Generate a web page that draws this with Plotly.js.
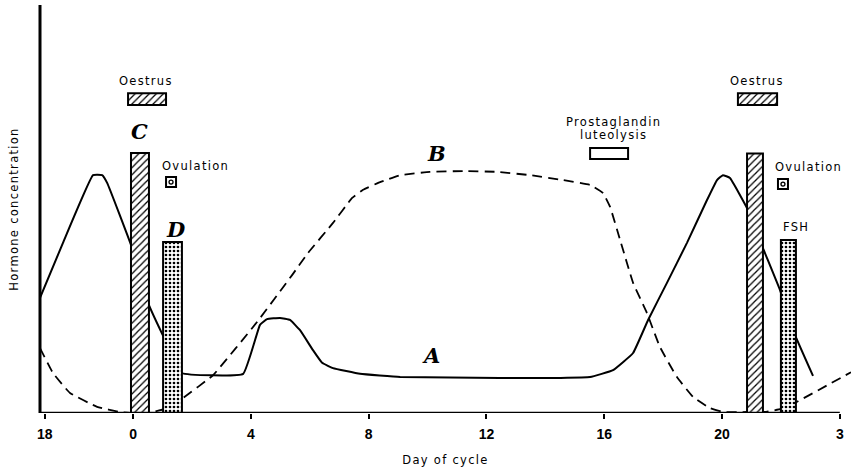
<!DOCTYPE html>
<html>
<head>
<meta charset="utf-8">
<script src="https://cdn.plot.ly/plotly-3.0.1.min.js"></script>
<style>
  html, body { margin: 0; padding: 0; background: #fff; }
  #chart { width: 851px; height: 475px; }
  .annotation-text, .xtitle, .ytitle { letter-spacing: 1.3px; }
</style>
</head>
<body>
<div id="chart"></div>
<script>
// ---- data (day of cycle, relative hormone level) ----
// Curve A (solid)
const aDay = [-3.16, -2.38, -1.36, -1.05, -0.88, -0.03, 0.51, 1.09, 1.66, 3.74, 4.31, 4.55, 4.99, 5.33, 5.67, 6.11, 6.42, 6.79, 7.71, 9.07, 12.46, 14.5, 15.52, 16.3, 16.98, 17.49, 18.13, 18.81, 19.49, 19.83, 20.03, 20.27, 20.88, 21.39, 21.97, 22.48, 23.09];
const aLevel = [28.2, 41.7, 58.3, 58.3, 56.4, 40.4, 27.0, 17.9, 9.8, 9.6, 21.6, 23.0, 23.3, 22.8, 20.3, 15.4, 12.3, 11.0, 9.6, 8.8, 8.6, 8.6, 8.8, 10.5, 14.7, 22.8, 31.9, 41.7, 52.2, 57.1, 58.3, 57.6, 49.8, 40.4, 30.1, 19.1, 9.1];
// Curve B (dashed)
const bDay = [-3.16, -2.72, -2.14, -1.22, -0.44, 0.0, 0.6, 1.1, 1.70, 2.72, 4.21, 5.40, 5.94, 6.79, 7.44, 7.81, 8.39, 9.07, 10.08, 11.21, 12.36, 13.48, 14.6, 15.52, 15.96, 16.2, 16.54, 16.98, 17.45, 17.89, 18.47, 19.02, 19.59, 20.03, 20.85, 21.5, 22.0, 22.48, 24.38];
const bLevel = [15.9, 9.8, 4.9, 1.5, 0.25, 0.0, 0.2, 1.0, 3.7, 9.3, 22.3, 33.8, 39.2, 46.6, 52.7, 54.7, 56.6, 58.3, 59.1, 59.3, 59.1, 58.3, 57.1, 55.9, 53.9, 50.5, 42.4, 31.9, 24.5, 16.2, 8.8, 3.9, 1.2, 0.25, 0.25, 0.3, 1.0, 2.5, 10.0];
// Pulses: C (hatched) and D / FSH (dotted)
const hatchStart = [-0.07, 20.85];
const hatchEnd = [0.54, 21.39];
const hatchLevel = [63.7, 63.6];
const dotStart = [1.02, 22.0];
const dotEnd = [1.66, 22.51];
const dotLevel = [41.9, 42.4];
// Oestrus periods
const oestrusStart = [-0.17, 20.54];
const oestrusEnd = [1.12, 21.87];
// Prostaglandin luteolysis period
const pgStart = [15.52];
const pgEnd = [16.81];
// Ovulation days
const ovulationDay = [1.29, 22.07];
// axis ticks
const tickDays = [-3, 0, 4, 8, 12, 16, 20, 24];
const tickText = ['18', '0', '4', '8', '12', '16', '20', '3'];

const mid = (s, e) => s.map((v, i) => (v + e[i]) / 2);
const wid = (s, e) => s.map((v, i) => e[i] - v);

const black = '#000';
const traces = [
  {
    type: 'scatter', mode: 'lines', x: aDay, y: aLevel, zorder: 1,
    line: { color: black, width: 2, shape: 'spline', smoothing: 0.3 },
    hoverinfo: 'skip', showlegend: false
  },
  {
    type: 'scatter', mode: 'lines', x: bDay, y: bLevel, zorder: 1,
    line: { color: black, width: 1.8, dash: '10px,6px', shape: 'spline', smoothing: 0.3 },
    hoverinfo: 'skip', showlegend: false
  },
  {
    type: 'bar', x: mid(hatchStart, hatchEnd), y: hatchLevel, width: wid(hatchStart, hatchEnd), zorder: 3,
    marker: { color: '#fff', line: { color: black, width: 2 },
      pattern: { shape: '/', fgcolor: black, bgcolor: '#fff', size: 5, solidity: 0.25 } },
    hoverinfo: 'skip', showlegend: false
  },
  {
    type: 'bar', x: mid(dotStart, dotEnd), y: dotLevel, width: wid(dotStart, dotEnd), zorder: 3,
    marker: { color: '#fff', line: { color: black, width: 2 },
      pattern: { shape: '.', fgcolor: black, bgcolor: '#fff', size: 4, solidity: 0.35 } },
    hoverinfo: 'skip', showlegend: false
  },
  {
    type: 'bar', x: mid(oestrusStart, oestrusEnd), y: [2.9, 2.9], base: [75.5, 75.5], width: wid(oestrusStart, oestrusEnd), zorder: 3,
    marker: { color: '#fff', line: { color: black, width: 2 },
      pattern: { shape: '/', fgcolor: black, bgcolor: '#fff', size: 5, solidity: 0.25 } },
    hoverinfo: 'skip', showlegend: false
  },
  {
    type: 'bar', x: mid(pgStart, pgEnd), y: [2.7], base: [62.25], width: wid(pgStart, pgEnd), zorder: 3,
    marker: { color: '#fff', line: { color: black, width: 2 } },
    hoverinfo: 'skip', showlegend: false
  },
  {
    type: 'scatter', mode: 'markers', x: ovulationDay, y: [56.6, 56.1], zorder: 4,
    marker: { symbol: 'square-open', size: 10, color: black, line: { width: 2, color: black } },
    hoverinfo: 'skip', showlegend: false
  },
  {
    type: 'scatter', mode: 'markers', x: ovulationDay, y: [56.6, 56.1], zorder: 4,
    marker: { symbol: 'circle-open', size: 4, color: black, line: { width: 1.3, color: black } },
    hoverinfo: 'skip', showlegend: false
  }
];

const small = { family: 'DejaVu Sans, Arial, sans-serif', size: 11.5, color: black };
const big = { family: 'DejaVu Serif, Liberation Serif, serif', size: 21, color: black, style: 'italic', weight: 'bold' };
function ann(x, y, text, font, xanchor) {
  return { x: x, y: y, xref: 'x', yref: 'y', text: text, showarrow: false, font: font, xanchor: xanchor || 'center', yanchor: 'middle' };
}

const layout = {
  width: 851, height: 475,
  margin: { l: 40, r: 0, t: 5, b: 62 },
  paper_bgcolor: '#fff', plot_bgcolor: '#fff',
  barmode: 'overlay', bargap: 0,
  showlegend: false,
  xaxis: {
    range: [-3.16, 24.38], tickvals: tickDays, ticktext: tickText,
    showgrid: false, zeroline: false, showline: false,
    ticks: 'outside', ticklen: 5, tickwidth: 2, tickcolor: black,
    ticklabelstandoff: 3,
    tickfont: { family: 'Liberation Sans, Arial, sans-serif', size: 14, color: black, weight: 'bold' },
    title: { text: 'Day of cycle', font: small, standoff: 15 },
    fixedrange: true
  },
  yaxis: {
    range: [0, 100], showgrid: false, zeroline: false, showline: false,
    ticks: '', showticklabels: false,
    title: { text: 'Hormone concentration', font: small, standoff: 17 },
    fixedrange: true
  },
  shapes: [
    { type: 'line', xref: 'x', yref: 'y', x0: -3.16, x1: 24.0, y0: 0, y1: 0, line: { color: black, width: 2.5 }, layer: 'above' },
    { type: 'line', xref: 'paper', yref: 'paper', x0: 0, x1: 0, y0: 0, y1: 1, line: { color: black, width: 3 }, layer: 'above' }
  ],
  annotations: [
    ann(0.44, 81.4, 'Oestrus', small),
    ann(21.19, 81.4, 'Oestrus', small),
    ann(0.92, 60.5, 'Ovulation', small, 'left'),
    ann(21.73, 60.3, 'Ovulation', small, 'left'),
    ann(22.51, 45.6, 'FSH', small),
    ann(16.3, 71.3, 'Prostaglandin', small),
    ann(16.3, 68.1, 'luteolysis', small),
    ann(0.24, 68.9, 'C', big),
    ann(1.49, 44.9, 'D', big),
    ann(10.32, 63.7, 'B', big),
    ann(10.15, 14.2, 'A', big)
  ]
};

Plotly.newPlot('chart', traces, layout, { staticPlot: true, displayModeBar: false });
</script>
</body>
</html>
